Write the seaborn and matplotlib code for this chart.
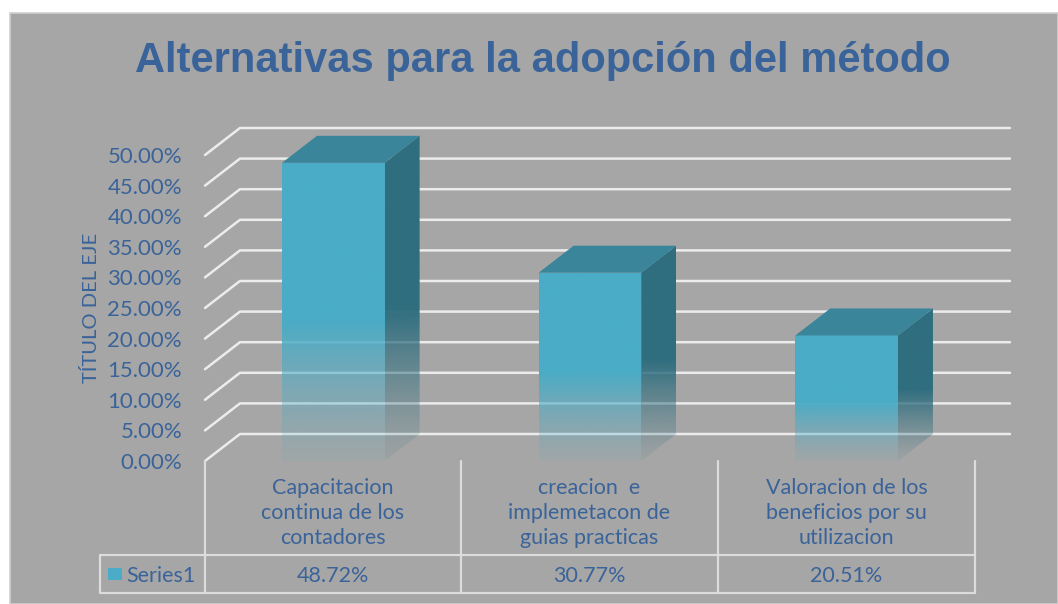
import numpy as np
import matplotlib
matplotlib.use("Agg")
import matplotlib.pyplot as plt
from matplotlib.patches import Polygon, Rectangle
import seaborn as sns

# ==============================
# DATA
# ==============================
categories = [
    "Capacitacion\ncontinua de los\ncontadores",
    "creacion  e\nimplemetacon de\nguias practicas",
    "Valoracion de los\nbeneficios por su\nutilizacion",
]
values = [0.4872, 0.3077, 0.2051]
value_labels = ["48.72%", "30.77%", "20.51%"]
yticks = [0.0, 0.05, 0.10, 0.15, 0.20, 0.25, 0.30, 0.35, 0.40, 0.45, 0.50]
series_name = "Series1"

# ==============================
# STYLE
# ==============================
W, H = 1058, 604
BG = "#a6a6a6"
TXT = "#3a6399"
FRONT = "#4aacc6"
SIDE = "#2f6e7f"
TOP = "#3a8599"
GRID = "#ececec"
YTOP = 0.55  # axis runs a bit above 50% so the 3D depth fits

sns.set_theme(style="white")
plt.rcParams["font.family"] = ["Lato", "DejaVu Sans"]

fig = plt.figure(figsize=(W / 100, H / 100), dpi=100, facecolor="white")

# gray chart area
fig.patches.append(Rectangle((10 / W, 0), 1 - 10 / W, (H - 13) / H,
                             transform=fig.transFigure, facecolor=BG,
                             edgecolor="#d0d0d0", lw=1.2, zorder=-10))

# axes = front plane of the 3D plot (0% at y=461px, 50% at y=155px)
px_per_unit = 306 / 0.5
ax = fig.add_axes([205 / W, (H - 461) / H, 770 / W, YTOP * px_per_unit / H])
ax.set_facecolor("none")
ax.set_zorder(1)

df_x = list(range(len(categories)))
sns.barplot(x=df_x, y=values, width=0.4, color=FRONT, ax=ax, zorder=3)
ax.set_xlim(-0.5, 2.5)
ax.set_ylim(0, YTOP)
for s in ax.spines.values():
    s.set_visible(False)

# 3D offsets in data units
ddx = 35 / 257
ddy = 27 / px_per_unit

# gridlines (left wall + back wall)
for v in yticks:
    ax.plot([-0.5, -0.5 + ddx, 2.5 + ddx], [v, v + ddy, v + ddy],
            color=GRID, lw=1.8, clip_on=False, zorder=1)

ax.set_yticks(yticks)
ax.set_yticklabels([f"{v * 100:.2f}%" for v in yticks], color=TXT, fontsize=16)
ax.tick_params(axis="y", length=0, pad=16.5)
ax.set_xticks([])
ax.set_xlabel("")
ax.set_ylabel("TÍTULO DEL EJE", color=TXT, fontsize=14.5)
ax.yaxis.set_label_coords(-0.137, 0.5 * 0.5 / YTOP + 0.0)


def fade_rgba(color, n=200, frac=0.47, amin=0.08):
    rgb = np.array(matplotlib.colors.to_rgb(color))
    t = np.linspace(1, 0, n)  # top -> bottom
    a = np.clip(t / frac, 0, 1)
    a = amin + (1 - amin) * a ** 1.3
    img = np.zeros((n, 2, 4))
    img[:, :, :3] = rgb
    img[:, :, 3] = a[:, None]
    return img


for p in ax.patches:
    x0, w, h = p.get_x(), p.get_width(), p.get_height()
    x1 = x0 + w
    p.set_facecolor("none")
    p.set_edgecolor("none")
    # front face
    im = ax.imshow(fade_rgba(FRONT), extent=(x0, x1, 0, h), aspect="auto",
                   zorder=4, interpolation="bilinear")
    im.set_clip_path(p)
    # side face
    side = Polygon([(x1, 0), (x1 + ddx, ddy), (x1 + ddx, h + ddy), (x1, h)],
                   closed=True, facecolor="none", edgecolor="none")
    ax.add_patch(side)
    im2 = ax.imshow(fade_rgba(SIDE), extent=(x1, x1 + ddx, 0, h + ddy),
                    aspect="auto", zorder=4, interpolation="bilinear")
    im2.set_clip_path(side)
    # top face
    ax.add_patch(Polygon([(x0, h), (x0 + ddx, h + ddy), (x1 + ddx, h + ddy), (x1, h)],
                         closed=True, facecolor=TOP, edgecolor="none",
                         zorder=5, clip_on=False))

ax.set_xlim(-0.5, 2.5)
ax.set_ylim(0, YTOP)

# ==============================
# DATA TABLE
# ==============================
def fx(px):
    return px / W


def fy(py):
    return 1 - py / H


tl = dict(color="#dcdcdc", lw=1.6, transform=fig.transFigure)
cols = [205, 461, 718, 975]
for c in cols:
    fig.add_artist(plt.Line2D([fx(c), fx(c)], [fy(461), fy(593)], **tl))
fig.add_artist(plt.Line2D([fx(100), fx(975)], [fy(555), fy(555)], **tl))
fig.add_artist(plt.Line2D([fx(100), fx(975)], [fy(593), fy(593)], **tl))
fig.add_artist(plt.Line2D([fx(100), fx(100)], [fy(555), fy(593)], **tl))

for i, (lab, vl) in enumerate(zip(categories, value_labels)):
    cx = (cols[i] + cols[i + 1]) / 2
    fig.text(fx(cx), fy(513), lab, ha="center", va="center", color=TXT,
             fontsize=15.5, linespacing=1.3)
    fig.text(fx(cx), fy(576), vl, ha="center", va="center", color=TXT, fontsize=15.5)

fig.patches.append(Rectangle((fx(108), fy(580)), 14 / W, 12 / H,
                             transform=fig.transFigure, facecolor=FRONT,
                             edgecolor="none"))
fig.text(fx(126), fy(576), series_name, ha="left", va="center", color=TXT, fontsize=15.5)

# title
fig.text(fx(543), fy(61), "Alternativas para la adopción del método",
         ha="center", va="center", color=TXT, fontsize=30, fontweight="bold",
         family=["Liberation Sans", "DejaVu Sans"])

fig.savefig("out.png", dpi=100, facecolor="white")
